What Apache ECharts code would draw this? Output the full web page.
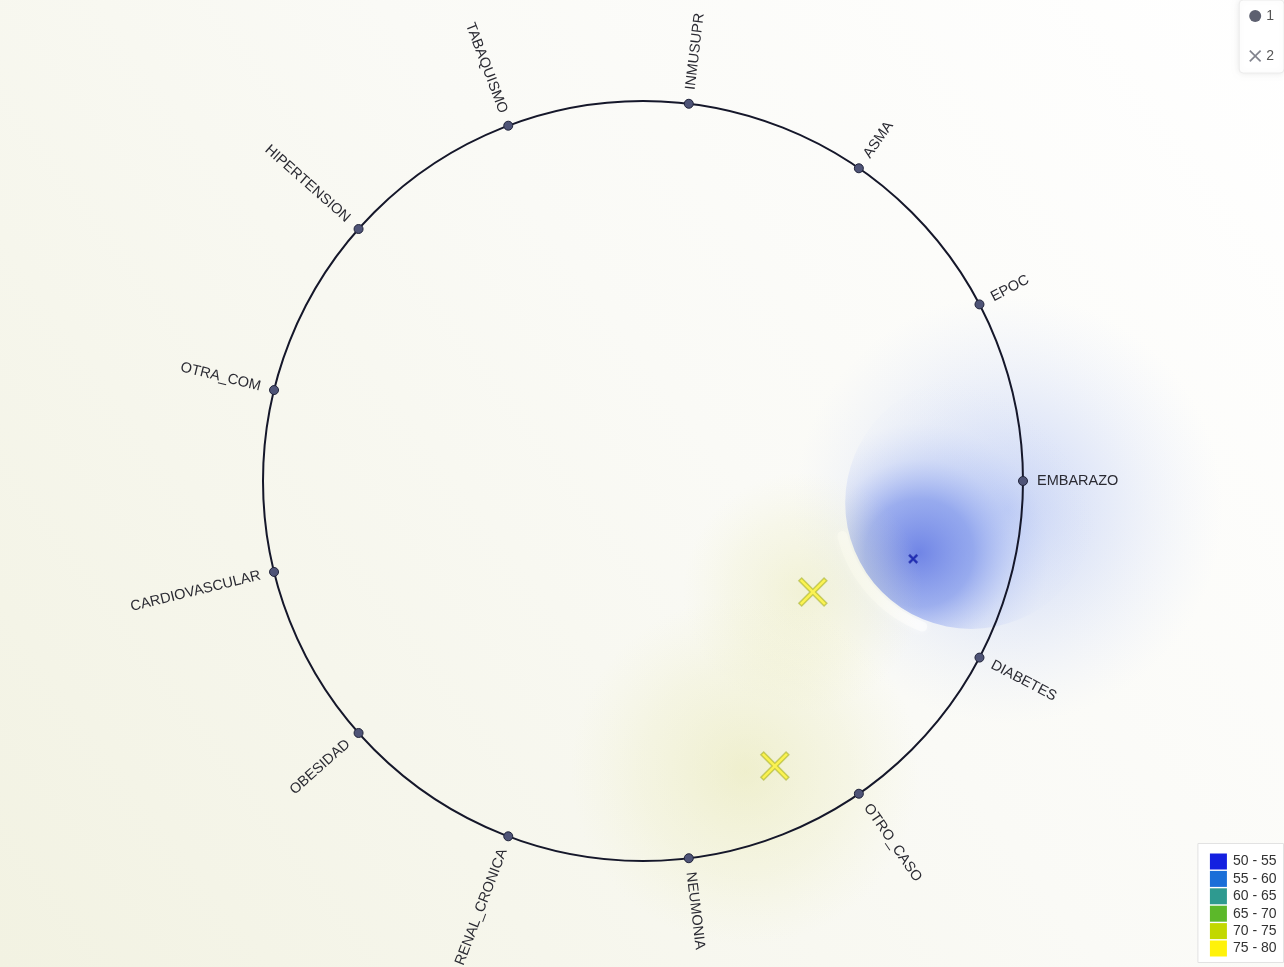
<!DOCTYPE html>
<html>
<head>
<meta charset="utf-8">
<title>RadViz</title>
<script src="https://cdn.jsdelivr.net/npm/echarts@6/dist/echarts.min.js"></script>
<style>
  html, body { margin: 0; padding: 0; background: #ffffff; }
  #chart { width: 1284px; height: 967px; }
</style>
</head>
<body>
<div id="chart"></div>
<script>
// Dimension anchors, placed counter-clockwise round the unit circle starting at 0°
const anchorNames = ['EMBARAZO', 'EPOC', 'ASMA', 'INMUSUPR', 'TABAQUISMO', 'HIPERTENSION',
  'OTRA_COM', 'CARDIOVASCULAR', 'OBESIDAD', 'RENAL_CRONICA', 'NEUMONIA', 'OTRO_CASO', 'DIABETES'];

// Projected observations (RadViz coordinates) and their values
const pointX = [0.711, 0.447, 0.347];
const pointY = [-0.205, -0.292, -0.750];
const pointValue = [52, 77, 78];
const pointCount = [1, 11, 11];

// Value classes of the colour legend
const pieceBreaks = [50, 55, 60, 65, 70, 75, 80];
const pieceColors = ['#1420e0', '#1a6ed8', '#2e9a90', '#5cb82a', '#c2d800', '#fff20a'];

const legendNames = ['1', '2'];

// ---- derived structures ----
const N = anchorNames.length;
const anchorData = anchorNames.map((name, i) => {
  const a = 2 * Math.PI * i / N;
  return { name: name, value: [Math.cos(a), Math.sin(a), a] };
});
const pieces = [];
for (let i = 0; i < pieceColors.length; i++) {
  pieces.push({ min: pieceBreaks[i], max: pieceBreaks[i + 1],
    label: pieceBreaks[i] + ' - ' + pieceBreaks[i + 1], color: pieceColors[i] });
}
// outline of an x mark: a darker, olive-leaning edge for the light classes
function edgeFor(v) {
  return v >= 70 ? 'rgba(165,175,45,0.9)' : 'rgba(10,20,150,0.9)';
}
const pointData = pointX.map((x, i) => ({
  value: [x, pointY[i], pointValue[i], pointCount[i]],
  itemStyle: { borderColor: edgeFor(pointValue[i]) }
}));
const fieldData = pointX.map((x, i) => [x, pointY[i], pointValue[i]]);

const X_MARK = 'path://M1,0 L5,4 L9,0 L10,1 L6,5 L10,9 L9,10 L5,6 L1,10 L0,9 L4,5 L0,1 Z';

// Shading drawn round each observation (pixel sizes)
const haloStyle = [
  { kind: 'core', dx: 58, dy: -56, r: 126, glow: 180, hx: 95, hy: -50, hrx: 265, hry: 215 },
  { kind: 'soft', dx: -10, dy: 0, rx: 140, ry: 120, alpha: 0.3 },
  { kind: 'soft', dx: -30, dy: 5, rx: 220, ry: 175, alpha: 0.36 }
];

function renderField(params, api) {
  const i = params.dataIndex;
  const p = api.coord([api.value(0), api.value(1)]);
  const s = haloStyle[i];
  if (s.kind === 'core') {
    const cx = p[0] + s.dx, cy = p[1] + s.dy;
    return {
      type: 'group',
      children: [
        { // wide soft glow
          type: 'ellipse',
          shape: { cx: p[0] + s.hx, cy: p[1] + s.hy, rx: s.hrx, ry: s.hry },
          style: {
            fill: { type: 'radial', x: 0.5, y: 0.5, r: 0.5, colorStops: [
              { offset: 0, color: 'rgba(120,150,240,0.4)' },
              { offset: 0.5, color: 'rgba(150,175,245,0.2)' },
              { offset: 1, color: 'rgba(190,205,250,0)' }] }
          }
        },
        { // bright seam on the lower-left side
          type: 'arc',
          shape: { cx: cx, cy: cy, r: s.r + 7, startAngle: Math.PI * 0.62, endAngle: Math.PI * 0.92, clockwise: true },
          style: { fill: 'none', stroke: 'rgba(255,255,255,0.55)', lineWidth: 10, lineCap: 'round',
            shadowBlur: 10, shadowColor: '#ffffff' }
        },
        { // dense core, sharp only where it meets the seam
          type: 'circle',
          shape: { cx: cx, cy: cy, r: s.r },
          style: {
            fill: { type: 'radial', x: p[0] + 6, y: p[1] - 6, r: s.glow, global: true, colorStops: [
              { offset: 0, color: 'rgba(80,105,225,0.78)' },
              { offset: 0.3, color: 'rgba(100,128,232,0.58)' },
              { offset: 0.52, color: 'rgba(135,160,242,0.2)' },
              { offset: 0.72, color: 'rgba(170,190,248,0.03)' },
              { offset: 1, color: 'rgba(190,205,250,0)' }] }
          }
        }
      ]
    };
  }
  return {
    type: 'ellipse',
    shape: { cx: p[0] + s.dx, cy: p[1] + s.dy, rx: s.rx, ry: s.ry },
    style: {
      fill: { type: 'radial', x: 0.5, y: 0.5, r: 0.5, colorStops: [
        { offset: 0, color: 'rgba(222,222,140,' + s.alpha + ')' },
        { offset: 0.6, color: 'rgba(228,228,160,' + (s.alpha * 0.5) + ')' },
        { offset: 1, color: 'rgba(235,235,180,0)' }] }
    }
  };
}

function renderCircle(params, api) {
  const c = api.coord([0, 0]);
  const e = api.coord([1, 0]);
  return {
    type: 'circle',
    shape: { cx: c[0], cy: c[1], r: e[0] - c[0] },
    style: { fill: 'none', stroke: '#15172a', lineWidth: 2 }
  };
}

function renderLabel(params, api) {
  const p = api.coord([api.value(0), api.value(1)]);
  const a = api.value(2);
  const d = 14;
  const left = Math.cos(a) < -1e-6;
  return {
    type: 'text',
    x: p[0] + Math.cos(a) * d,
    y: p[1] - Math.sin(a) * d,
    rotation: left ? a - Math.PI : a,
    style: {
      text: anchorNames[params.dataIndex],
      align: left ? 'right' : 'left',
      verticalAlign: 'middle',
      fill: '#2b2b33',
      font: '14.5px "Liberation Sans", Arial, sans-serif'
    }
  };
}

const chart = echarts.init(document.getElementById('chart'), null, { renderer: 'canvas' });
chart.setOption({
  animation: false,
  backgroundColor: {
    type: 'linear', x: 1, y: 0, x2: 0, y2: 1, colorStops: [
      { offset: 0, color: '#ffffff' },
      { offset: 0.45, color: '#fafaf6' },
      { offset: 1, color: '#f2f2e2' }]
  },
  grid: { left: 35, right: 33, top: 6, bottom: 11, containLabel: false },
  xAxis: { type: 'value', min: -1.6, max: 1.6, show: false },
  yAxis: { type: 'value', min: -1.25, max: 1.25, show: false },
  legend: {
    orient: 'vertical', right: 0, top: 0,
    padding: [9, 10, 10, 10], itemGap: 26, itemWidth: 12, itemHeight: 12,
    backgroundColor: '#ffffff', borderColor: '#ececec', borderWidth: 1, borderRadius: 4,
    shadowBlur: 6, shadowColor: 'rgba(0,0,0,0.08)',
    textStyle: { color: '#555', fontSize: 14, fontFamily: 'Liberation Sans, Arial, sans-serif' },
    data: [
      { name: legendNames[0], icon: 'circle', itemStyle: { color: '#5d6070', borderWidth: 0 } },
      { name: legendNames[1], icon: X_MARK, itemStyle: { color: '#3f4252', borderWidth: 0 } }
    ]
  },
  visualMap: {
    type: 'piecewise', seriesIndex: 4, dimension: 2,
    pieces: pieces, inverse: true, align: 'left',
    right: 0, bottom: 4, itemWidth: 17, itemHeight: 16, itemGap: 1.4, itemSymbol: 'rect',
    padding: [10, 7, 6, 12], textGap: 6,
    backgroundColor: '#ffffff', borderColor: '#e2e2e2', borderWidth: 1,
    textStyle: { color: '#333', fontSize: 14, fontFamily: 'Liberation Sans, Arial, sans-serif' }
  },
  tooltip: { show: false },
  series: [
    { type: 'custom', name: 'field', silent: true, z: 0, renderItem: renderField, data: fieldData, clip: false },
    { type: 'custom', name: 'ring', silent: true, z: 2, renderItem: renderCircle, data: [[0, 0]], clip: false },
    { type: 'custom', name: 'labels', silent: true, z: 3, renderItem: renderLabel, data: anchorData, clip: false },
    {
      type: 'scatter', name: legendNames[0], z: 4, symbol: 'circle', symbolSize: 9,
      itemStyle: { color: '#4f5477', borderColor: '#20233a', borderWidth: 1, opacity: 1 },
      data: anchorData
    },
    {
      type: 'scatter', name: legendNames[1], z: 5, symbol: X_MARK,
      symbolSize: (v) => 6 + 2 * v[3],
      itemStyle: { opacity: 0.65, borderWidth: 1.5 },
      data: pointData
    }
  ]
});
</script>
</body>
</html>
